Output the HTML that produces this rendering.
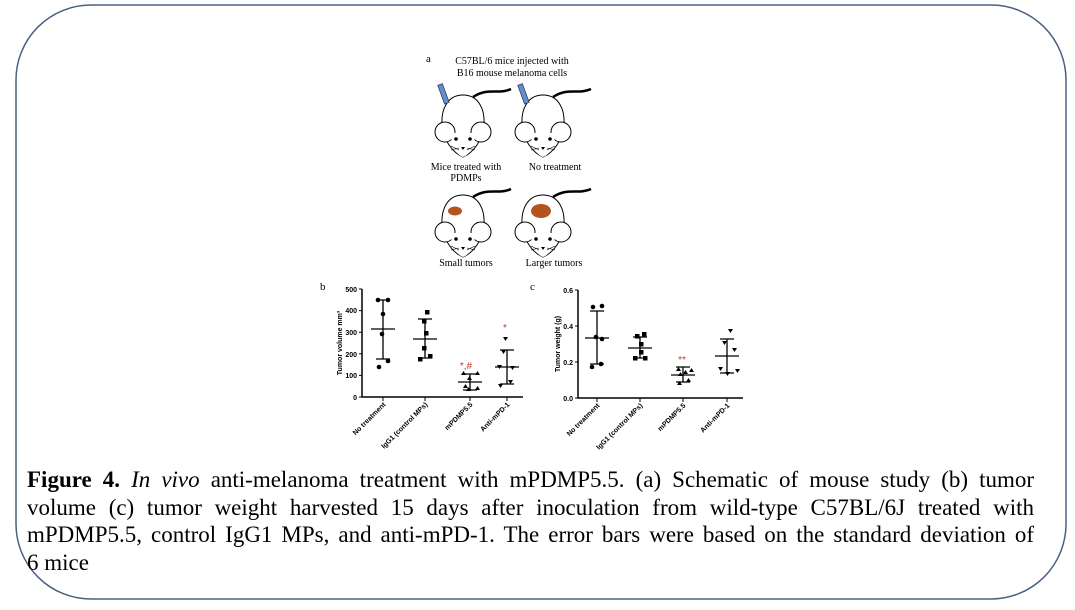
<!DOCTYPE html>
<html><head><meta charset="utf-8"><style>
html,body{margin:0;padding:0;background:#fff;width:1075px;height:610px;overflow:hidden;position:relative}
.cap{position:absolute;left:27px;top:466px;width:1007px;font-family:"Liberation Serif",serif;font-size:23px;line-height:27.7px;color:#000}
.cap div{text-align:justify;text-align-last:justify;white-space:nowrap;height:27.7px}
.cap div.last{text-align-last:left}
</style></head><body>
<svg width="1075" height="610" style="position:absolute;left:0;top:0">
<rect x="16" y="5" width="1050" height="594" rx="75" ry="75" fill="none" stroke="#4a6080" stroke-width="1.5"/>
<defs>
<g id="mouse">
<path d="M10,-28 C25,-38 35,-30 48,-36" fill="none" stroke="#000" stroke-width="2.5"/>
<path d="M0,-30 C-16,-30 -22,-15 -21,0 C-20,15 -10,28 0,32 C10,28 20,15 21,0 C22,-15 16,-30 0,-30 Z" fill="#fff" stroke="#000" stroke-width="1"/>
<circle cx="-18" cy="7" r="10" fill="#fff" stroke="#000" stroke-width="1"/>
<circle cx="18" cy="7" r="10" fill="#fff" stroke="#000" stroke-width="1"/>
<path d="M-12,8 C-12,22 -6,30 0,32 C6,30 12,22 12,8 Z" fill="#fff"/>
<circle cx="-7" cy="14" r="1.8" fill="#000"/><circle cx="7" cy="14" r="1.8" fill="#000"/>
<path d="M-2,22 L2,22 L0,25 Z" fill="#000"/>
<path d="M-12,21 L-4,25 M-12,25 L-4,23 M12,21 L4,25 M12,25 L4,23" stroke="#000" stroke-width="0.6"/>
</g>
</defs>
<g font-family="Liberation Serif,serif" font-size="10" fill="#000">
<text x="426" y="62" font-size="11">a</text>
<text x="512" y="64" text-anchor="middle">C57BL/6 mice injected with</text>
<text x="512" y="76" text-anchor="middle">B16 mouse melanoma cells</text>
<text x="466" y="170" text-anchor="middle">Mice treated with</text>
<text x="466" y="181" text-anchor="middle">PDMPs</text>
<text x="555" y="170" text-anchor="middle">No treatment</text>
<text x="466" y="266" text-anchor="middle">Small tumors</text>
<text x="554" y="266" text-anchor="middle">Larger tumors</text>
<text x="320" y="290" font-size="11">b</text>
<text x="530" y="290" font-size="11">c</text>
</g>
<use href="#mouse" x="463" y="125"/>
<use href="#mouse" x="543" y="125"/>
<use href="#mouse" x="463" y="225"/>
<use href="#mouse" x="543" y="225"/>
<rect x="441" y="84" width="5" height="20" fill="#5b8fd0" stroke="#222" stroke-width="0.6" transform="rotate(-20 443 94)"/>
<rect x="521" y="84" width="5" height="20" fill="#5b8fd0" stroke="#222" stroke-width="0.6" transform="rotate(-20 523 94)"/>
<ellipse cx="455" cy="211" rx="7" ry="4.5" fill="#b5531e"/>
<ellipse cx="541" cy="211" rx="10" ry="7" fill="#b5531e"/>

<g font-family="Liberation Sans,sans-serif" font-size="7" font-weight="bold" fill="#000" stroke="#000">
<path d="M362,289 V397 H523" fill="none" stroke-width="1.5"/>
<g stroke-width="1">
<path d="M359,289H362M359,310.6H362M359,332.2H362M359,353.8H362M359,375.4H362M359,397H362"/>
<path d="M383,397V401M425,397V401M470,397V401M507,397V401"/>
</g>
<g stroke="none" text-anchor="end">
<text x="357" y="292">500</text><text x="357" y="313">400</text><text x="357" y="335">300</text><text x="357" y="357">200</text><text x="357" y="378">100</text><text x="357" y="400">0</text>
</g>
<text x="0" y="0" stroke="none" text-anchor="middle" transform="translate(342,343) rotate(-90)">Tumor volume mm³</text>
<g stroke-width="1.3">
<path d="M371,329H395M383,300V359M376,300H390M376,359H390"/>
<path d="M413,339H437M425,319V358M418,319H432M418,358H432"/>
<path d="M458,382H482M470,374V390M463,374H477M463,390H477"/>
<path d="M495,367H519M507,350V384M500,350H514M500,384H514"/>
</g>
<g stroke="none">
<circle cx="378" cy="300" r="2.3"/><circle cx="388" cy="300" r="2.3"/><circle cx="383" cy="314" r="2.3"/><circle cx="382" cy="334" r="2.3"/><circle cx="388" cy="361" r="2.3"/><circle cx="379" cy="367" r="2.3"/>
<rect x="425" y="310" width="4.5" height="4.5"/><rect x="422" y="319" width="4.5" height="4.5"/><rect x="424" y="331" width="4.5" height="4.5"/><rect x="422" y="346" width="4.5" height="4.5"/><rect x="428" y="354" width="4.5" height="4.5"/><rect x="418" y="357" width="4.5" height="4.5"/>
<path d="M461,375l2.5,-4l2.5,4zM475,375l2.5,-4l2.5,4zM467,380l2.5,-4l2.5,4zM463,388l2.5,-4l2.5,4zM475,390l2.5,-4l2.5,4zM466,391l2.5,-4l2.5,4z"/>
<path d="M503,337l2.5,4l2.5,-4zM501,350l2.5,4l2.5,-4zM497,365l2.5,4l2.5,-4zM510,366l2.5,4l2.5,-4zM508,380l2.5,4l2.5,-4zM498,384l2.5,4l2.5,-4z"/>
<text x="466" y="369" fill="#c0392b" font-size="10" font-weight="normal" text-anchor="middle">*,#</text>
<text x="505" y="331" fill="#c0392b" font-size="10" font-weight="normal" text-anchor="middle">*</text>
</g>
<g stroke="none" text-anchor="end">
<text transform="translate(386,405) rotate(-45)">No treatment</text>
<text transform="translate(428,405) rotate(-45)">IgG1 (control MPs)</text>
<text transform="translate(473,405) rotate(-45)">mPDMP5.5</text>
<text transform="translate(510,405) rotate(-45)">Anti-mPD-1</text>
</g>

<path d="M578,290 V398 H743" fill="none" stroke-width="1.5"/>
<g stroke-width="1">
<path d="M575,290H578M575,326H578M575,362H578M575,398H578"/>
<path d="M597,398V402M640,398V402M683,398V402M727,398V402"/>
</g>
<g stroke="none" text-anchor="end">
<text x="573" y="293">0.6</text><text x="573" y="365">0.2</text><text x="573" y="401">0.0</text><text x="573" y="329">0.4</text>
</g>
<text x="0" y="0" stroke="none" text-anchor="middle" transform="translate(560,344) rotate(-90)">Tumor weight (g)</text>
<g stroke-width="1.3">
<path d="M585,338H609M597,311V364M590,311H604M590,364H604"/>
<path d="M628,348H652M640,337V358M633,337H647M633,358H647"/>
<path d="M671,375H695M683,367V382M676,367H690M676,382H690"/>
<path d="M715,356H739M727,339V373M720,339H734M720,373H734"/>
</g>
<g stroke="none">
<circle cx="593" cy="307" r="2.3"/><circle cx="602" cy="306" r="2.3"/><circle cx="596" cy="337" r="2.3"/><circle cx="602" cy="339" r="2.3"/><circle cx="601" cy="364" r="2.3"/><circle cx="592" cy="367" r="2.3"/>
<rect x="642" y="332" width="4.5" height="4.5"/><rect x="635" y="334" width="4.5" height="4.5"/><rect x="639" y="342" width="4.5" height="4.5"/><rect x="639" y="350" width="4.5" height="4.5"/><rect x="643" y="356" width="4.5" height="4.5"/><rect x="633" y="356" width="4.5" height="4.5"/>
<path d="M676,371l2.5,-4l2.5,4zM689,372l2.5,-4l2.5,4zM683,374l2.5,-4l2.5,4zM678,376l2.5,-4l2.5,4zM686,382l2.5,-4l2.5,4zM677,385l2.5,-4l2.5,4z"/>
<path d="M728,329l2.5,4l2.5,-4zM722,341l2.5,4l2.5,-4zM732,348l2.5,4l2.5,-4zM718,367l2.5,4l2.5,-4zM725,372l2.5,4l2.5,-4zM735,369l2.5,4l2.5,-4z"/>
<text x="682" y="363" fill="#c0392b" font-size="10" font-weight="normal" text-anchor="middle">**</text>
</g>
<g stroke="none" text-anchor="end">
<text transform="translate(600,406) rotate(-45)">No treatment</text>
<text transform="translate(643,406) rotate(-45)">IgG1 (control MPs)</text>
<text transform="translate(686,406) rotate(-45)">mPDMP5.5</text>
<text transform="translate(730,406) rotate(-45)">Anti-mPD-1</text>
</g>
</g>
</svg>
<div class="cap">
<div><b>Figure 4.</b> <i>In vivo</i> anti-melanoma treatment with mPDMP5.5. (a) Schematic of mouse study (b) tumor</div>
<div>volume (c) tumor weight harvested 15 days after inoculation from wild-type C57BL/6J treated with</div>
<div>mPDMP5.5, control IgG1 MPs, and anti-mPD-1. The error bars were based on the standard deviation of</div>
<div class="last">6 mice</div>
</div>
</body></html>
